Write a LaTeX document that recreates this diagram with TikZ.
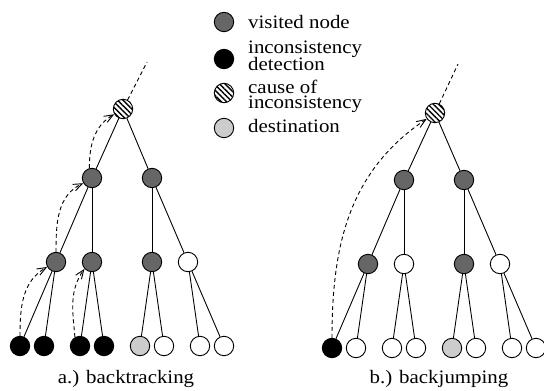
\documentclass[tikz,border=0pt]{standalone}
\usepackage{fontspec}
\setmainfont[FakeStretch=1.1]{Liberation Serif}
\usetikzlibrary{arrows.meta,patterns.meta}
\definecolor{visgray}{HTML}{666666}
\definecolor{destgray}{HTML}{CCCCCC}

\begin{document}
\begin{tikzpicture}[x=1pt,y=-1pt,
  vx/.style={circle,draw,line width=0.9pt,minimum size=19.4pt,inner sep=0pt},
  visited/.style={vx,fill=visgray},
  fail/.style={vx,fill=black},
  cause/.style={vx,fill=white,postaction={pattern={Lines[angle=-45,distance=3.8pt,line width=1.4pt]}}},
  dest/.style={vx,fill=destgray},
  blank/.style={vx,fill=white},
  link/.style={line width=0.9pt},
  upward/.style={line width=0.9pt,dash pattern=on 4pt off 3pt},
  jump/.style={upward,-{Straight Barb[length=9pt,width=7pt]}},
  lbl/.style={font=\fontsize{19}{17}\selectfont,inner sep=0pt}
]
\useasboundingbox (0,0) rectangle (544,391);

% legend (two-line labels are anchored at the baseline of their last line)
\node[visited] (k1) at (224,22) {};
\node[lbl,anchor=base west] (t1) at (248,28) {visited node};
\node[fail] (k2) at (224,59) {};
\node[lbl,anchor=base west,align=left] (t2) at (248,70) {inconsistency\\[-2pt]detection};
\node[cause] (k3) at (224,93) {};
\node[lbl,anchor=base west,align=left] (t3) at (248,108) {cause of\\[-2pt]inconsistency};
\node[dest] (k4) at (224,128) {};
\node[lbl,anchor=base west] (t4) at (248,132) {destination};

% tree a: backtracking
\node[cause] (ra) at (123,109) {};
\node[visited] (a1) at (92,178) {};
\node[visited] (a2) at (152,178) {};
\node[visited] (a11) at (56,262) {};
\node[visited] (a12) at (92,262) {};
\node[visited] (a21) at (152,262) {};
\node[blank] (a22) at (188,262) {};
\node[fail] (a111) at (20,346) {};
\node[fail] (a112) at (44,346) {};
\node[fail] (a121) at (80,346) {};
\node[fail] (a122) at (104,346) {};
\node[dest] (a211) at (140,346) {};
\node[blank] (a212) at (164,346) {};
\node[blank] (a221) at (200,346) {};
\node[blank] (a222) at (224,346) {};
\coordinate (ta) at (147,62);

\draw[upward] (ra) -- (ta);
\draw[link] (ra) -- (a1);
\draw[link] (ra) -- (a2);
\draw[link] (a1) -- (a11);
\draw[link] (a1) -- (a12);
\draw[link] (a2) -- (a21);
\draw[link] (a2) -- (a22);
\draw[link] (a11) -- (a111);
\draw[link] (a11) -- (a112);
\draw[link] (a12) -- (a121);
\draw[link] (a12) -- (a122);
\draw[link] (a21) -- (a211);
\draw[link] (a21) -- (a212);
\draw[link] (a22) -- (a221);
\draw[link] (a22) -- (a222);

\draw[jump] (a111.north) to[out=90,in=210] (a11.209);
\draw[jump] (a121.120) to[out=95,in=235] (a12.222);
\draw[jump] (a11.north) to[out=90,in=205] (a1.211);
\draw[jump] (a1.105) to[out=90,in=210] (ra.211);

% tree b: backjumping
\node[cause] (rb) at (435,113) {};
\node[visited] (b1) at (404,180) {};
\node[visited] (b2) at (464,180) {};
\node[visited] (b11) at (368,264) {};
\node[blank] (b12) at (404,264) {};
\node[visited] (b21) at (464,264) {};
\node[blank] (b22) at (500,264) {};
\node[fail] (b111) at (332,348) {};
\node[blank] (b112) at (356,348) {};
\node[blank] (b121) at (392,348) {};
\node[blank] (b122) at (416,348) {};
\node[dest] (b211) at (452,348) {};
\node[blank] (b212) at (476,348) {};
\node[blank] (b221) at (512,348) {};
\node[blank] (b222) at (536,348) {};
\coordinate (tb) at (458,64);

\draw[upward] (rb) -- (tb);
\draw[link] (rb) -- (b1);
\draw[link] (rb) -- (b2);
\draw[link] (b1) -- (b11);
\draw[link] (b1) -- (b12);
\draw[link] (b2) -- (b21);
\draw[link] (b2) -- (b22);
\draw[link] (b11) -- (b111);
\draw[link] (b11) -- (b112);
\draw[link] (b12) -- (b121);
\draw[link] (b12) -- (b122);
\draw[link] (b21) -- (b211);
\draw[link] (b21) -- (b212);
\draw[link] (b22) -- (b221);
\draw[link] (b22) -- (b222);

\draw[jump] (b111.north) to[out=90,in=214] (rb.215);

% captions
\node[lbl,anchor=base] (ca) at (126,383) {a.) backtracking};
\node[lbl,anchor=base] (cb) at (439,383) {b.) backjumping};
\end{tikzpicture}
\end{document}
